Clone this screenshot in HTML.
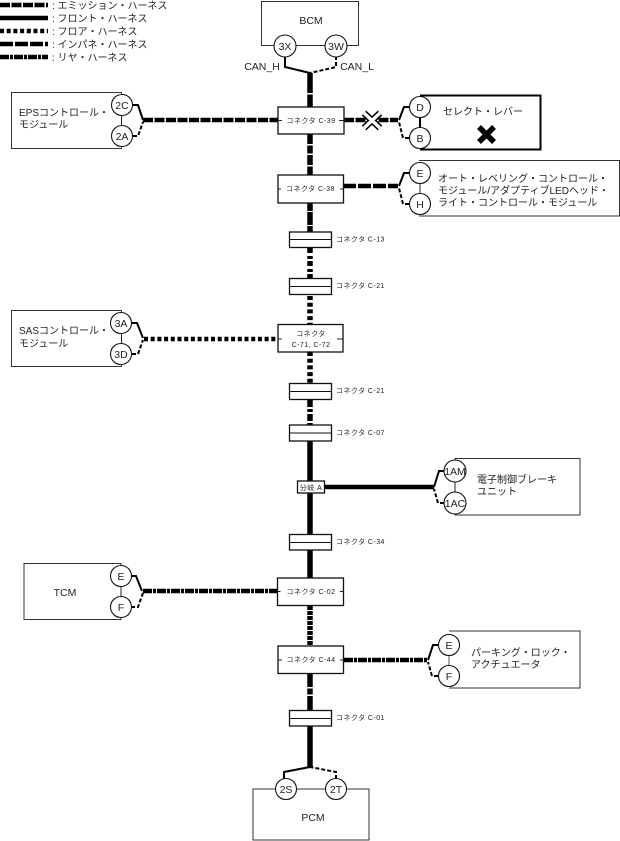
<!DOCTYPE html>
<html><head><meta charset="utf-8"><style>
html,body{margin:0;padding:0;background:#fff}
svg{display:block}
text{font-family:"Liberation Sans","Noto Sans CJK JP",sans-serif;fill:#222;font-size:10px}
.s{font-size:7px;letter-spacing:.45px}
.c{font-size:10.5px;text-anchor:middle}
.box{fill:#fff;stroke:#333;stroke-width:1}
.cb{fill:#fff;stroke:#111;stroke-width:1.3}
.ci{fill:#fff;stroke:#111;stroke-width:1.1}
.w{fill:none;stroke:#000;stroke-width:2}
.d{fill:none;stroke:#000;stroke-width:2;stroke-dasharray:4 2}
.em{fill:none;stroke:#000;stroke-width:4.5;stroke-dasharray:10 1.5}
.fr{fill:none;stroke:#000;stroke-width:4.5}
.fl{fill:none;stroke:#000;stroke-width:4.5;stroke-dasharray:4 2.7}
.in{fill:none;stroke:#000;stroke-width:4.5;stroke-dasharray:13 2}
.re{fill:none;stroke:#000;stroke-width:4.5;stroke-dasharray:9 1 3 1}
.t{fill:none;stroke:#000;stroke-width:5.5}
</style></head><body>
<svg width="620" height="841" viewBox="0 0 620 841" xmlns="http://www.w3.org/2000/svg">
<!-- legend -->
<path class="em" d="M0 5H48"/><path class="fr" d="M0 18H48"/><path class="fl" d="M0 31H48"/><path class="in" d="M0 44H48"/><path class="re" d="M0 57H48"/>
<text x="52" y="9">: エミッション・ハーネス</text>
<text x="52" y="22">: フロント・ハーネス</text>
<text x="52" y="35">: フロア・ハーネス</text>
<text x="52" y="48">: インパネ・ハーネス</text>
<text x="52" y="61">: リヤ・ハーネス</text>

<!-- trunk -->
<path class="t" d="M310 73V107" stroke-dasharray="20 1.5 12"/>
<path class="t" d="M310 134V175" stroke-dasharray="10 1.5 8 1.5"/>
<path class="t" d="M310 203V232" stroke-dasharray="8 1 13 1"/>
<path class="t" d="M310 248V278" stroke-dasharray="5 3 3 2"/>
<path class="t" d="M310 296V324" stroke-dasharray="4 2.7"/>
<path class="t" d="M310 352V383" stroke-dasharray="4 2.7"/>
<path class="t" d="M310 400V425" stroke-dasharray="7 2 3 2"/>
<path class="t" d="M310 441V578"/>
<path class="t" d="M310 606V646" stroke-dasharray="4 1"/>
<path class="t" d="M310 673V710" stroke-dasharray="14 1.5 6 1.5"/>
<path class="t" d="M310 726V767"/>

<!-- BCM -->
<rect class="box" x="261.5" y="1.5" width="97" height="44"/>
<text class="c" x="311" y="24">BCM</text>
<path class="w" d="M285 56V67L310 73"/><path class="d" d="M336 56V67L310 73"/>
<circle class="ci" cx="285" cy="46" r="11"/><circle class="ci" cx="336" cy="46" r="11"/>
<text class="c" x="285" y="50">3X</text><text class="c" x="336" y="50">3W</text>
<text class="c" x="262" y="70">CAN_H</text><text class="c" x="357" y="70">CAN_L</text>

<!-- EPS -->
<rect class="box" x="11.5" y="92.5" width="110" height="56"/>
<path d="M121.5 105V136" stroke="#222" stroke-width="1"/>
<path class="em" d="M143 120H278"/>
<path class="w" d="M133 105H138L143 120"/><path class="d" d="M133 136H138L143 122"/>
<circle class="ci" cx="122" cy="105" r="10.5"/><circle class="ci" cx="122" cy="136" r="10.5"/>
<text class="c" x="122" y="109">2C</text><text class="c" x="122" y="140">2A</text>
<text x="19" y="116">EPSコントロール・</text>
<text x="19" y="128">モジュール</text>

<!-- C-39 -->
<path class="em" d="M344 120H398"/>
<rect class="cb" x="278" y="107" width="66" height="27"/>
<path d="M278 120.5h4M339 120.5h5" stroke="#222"/>
<text class="s" x="311" y="123" text-anchor="middle">コネクタ C-39</text>
<!-- X mark -->
<path d="M364 113L380 128M380 113L364 128" stroke="#000" stroke-width="6.5" fill="none"/>
<path d="M364 113L380 128M380 113L364 128" stroke="#fff" stroke-width="3.5" fill="none"/>

<!-- select lever -->
<path d="M420 95.5H540.5V149.5H420" fill="#fff" stroke="#000" stroke-width="2"/>
<path d="M420 107V138" stroke="#000" stroke-width="2"/>
<path class="w" d="M409 107H404L399 120"/><path class="d" d="M409 138H403L399 122"/>
<circle class="ci" cx="420" cy="107" r="10.5"/><circle class="ci" cx="420" cy="138" r="10.5"/>
<text class="c" x="420" y="111">D</text><text class="c" x="420" y="142">B</text>
<text x="443" y="115">セレクト・レバー</text>
<path d="M479 127L494 142M494 127L479 142" stroke="#000" stroke-width="5.5"/>

<!-- C-38 -->
<path class="in" d="M343 186H398"/>
<rect class="cb" x="278" y="175" width="65.5" height="28"/>
<path d="M278 189h3M340 189h4" stroke="#222"/>
<text class="s" x="310.5" y="191" text-anchor="middle">コネクタ C-38</text>
<path d="M419 160.5H619.5V216H419" fill="#fff" stroke="#333"/>
<path d="M420 173V204" stroke="#222"/>
<path class="w" d="M409 173H404L399 186"/><path class="d" d="M409 204H403L399 188"/>
<circle class="ci" cx="420" cy="173" r="10.5"/><circle class="ci" cx="420" cy="204" r="10.5"/>
<text class="c" x="420" y="177">E</text><text class="c" x="420" y="208">H</text>
<text x="438" y="182">オート・レベリング・コントロール・</text>
<text x="438" y="194">モジュール/アダプティブLEDヘッド・</text>
<text x="438" y="206">ライト・コントロール・モジュール</text>

<!-- inline connectors -->
<g>
<rect class="cb" x="289.5" y="232" width="42" height="15.5"/><path d="M289.5 239.5H331.5" stroke="#111"/>
<rect class="cb" x="289.5" y="278.5" width="42" height="16"/><path d="M289.5 286.5H331.5" stroke="#111"/>
<rect class="cb" x="289.5" y="383.5" width="42" height="16"/><path d="M289.5 391.5H331.5" stroke="#111"/>
<rect class="cb" x="289.5" y="425" width="42" height="16"/><path d="M289.5 433H331.5" stroke="#111"/>
<rect class="cb" x="289.5" y="534.5" width="42" height="15.5"/><path d="M289.5 542.5H331.5" stroke="#111"/>
<rect class="cb" x="289.5" y="710.5" width="42" height="15.5"/><path d="M289.5 718.5H331.5" stroke="#111"/>
</g>
<text class="s" x="336" y="241.5">コネクタ C-13</text>
<text class="s" x="336" y="288">コネクタ C-21</text>
<text class="s" x="336" y="393">コネクタ C-21</text>
<text class="s" x="336" y="435">コネクタ C-07</text>
<text class="s" x="336" y="544">コネクタ C-34</text>
<text class="s" x="336" y="720">コネクタ C-01</text>

<!-- SAS -->
<rect class="box" x="11.5" y="310.5" width="110" height="56"/>
<path d="M121.5 323V354" stroke="#222"/>
<path class="fl" d="M144 339H278"/>
<path class="w" d="M132 323H137L143 338"/><path class="d" d="M132 354H138L143 340"/>
<circle class="ci" cx="121" cy="323" r="10.5"/><circle class="ci" cx="121" cy="354" r="10.5"/>
<text class="c" x="121" y="327">3A</text><text class="c" x="121" y="358">3D</text>
<text x="19" y="334">SASコントロール・</text>
<text x="19" y="347">モジュール</text>
<rect class="cb" x="278" y="324.5" width="65" height="27.5"/>
<path d="M278 339h4M337 339h6" stroke="#222"/>
<text class="s" x="311" y="336" text-anchor="middle">コネクタ</text>
<text class="s" x="311" y="347" text-anchor="middle">C-71, C-72</text>

<!-- branch A -->
<path class="fr" d="M324 487H434"/>
<rect class="cb" x="297.5" y="481" width="27" height="12"/>
<text class="s" x="311" y="490" text-anchor="middle">分岐 A</text>
<path d="M580 458.5H455V515H580Z" fill="#fff" stroke="#333"/>
<path d="M455 471V503" stroke="#222"/>
<path class="w" d="M444 471H439L434 487"/><path class="d" d="M444 503H438L434 489"/>
<circle class="ci" cx="455" cy="471" r="11"/><circle class="ci" cx="455" cy="503" r="11"/>
<text class="c" x="455" y="475">1AM</text><text class="c" x="455" y="507">1AC</text>
<text x="477" y="483">電子制御ブレーキ</text>
<text x="477" y="495">ユニット</text>

<!-- TCM -->
<rect class="box" x="24" y="563.5" width="97" height="56"/>
<path d="M121 576V607" stroke="#222"/>
<path class="re" d="M143 591H278"/>
<path class="w" d="M131 576H136L142 591"/><path class="d" d="M131 607H138L143 593"/>
<circle class="ci" cx="121" cy="576" r="10.5"/><circle class="ci" cx="121" cy="607" r="10.5"/>
<text class="c" x="121" y="580">E</text><text class="c" x="121" y="611">F</text>
<text class="c" x="65" y="596">TCM</text>
<rect class="cb" x="277.5" y="578" width="66" height="27.5"/>
<path d="M277.5 591.5h3M340 591.5h4" stroke="#222"/>
<text class="s" x="311" y="594" text-anchor="middle">コネクタ C-02</text>

<!-- C-44 -->
<path class="re" d="M344 660H428"/>
<rect class="cb" x="278" y="646" width="65.5" height="27.5"/>
<path d="M278 660h4M340 660h4" stroke="#222"/>
<text class="s" x="311" y="662" text-anchor="middle">コネクタ C-44</text>
<path d="M449 631H580V688H449" fill="#fff" stroke="#333"/>
<path d="M449 645V676" stroke="#555"/>
<path class="w" d="M438 645H433L428 660"/><path class="d" d="M438 676H432L428 662"/>
<circle class="ci" cx="449" cy="645" r="10.5"/><circle class="ci" cx="449" cy="676" r="10.5"/>
<text class="c" x="449" y="649">E</text><text class="c" x="449" y="680">F</text>
<text x="471" y="656">パーキング・ロック・</text>
<text x="471" y="668">アクチュエータ</text>

<!-- PCM -->
<rect class="box" x="253" y="789" width="116" height="51"/>
<path class="w" d="M284 779V772L310 767"/><path class="d" d="M336 779V772L310 767"/>
<circle class="ci" cx="286" cy="789" r="10.5"/><circle class="ci" cx="336" cy="789" r="10.5"/>
<text class="c" x="286" y="793">2S</text><text class="c" x="336" y="793">2T</text>
<text class="c" x="313" y="821">PCM</text>
</svg>
</body></html>
